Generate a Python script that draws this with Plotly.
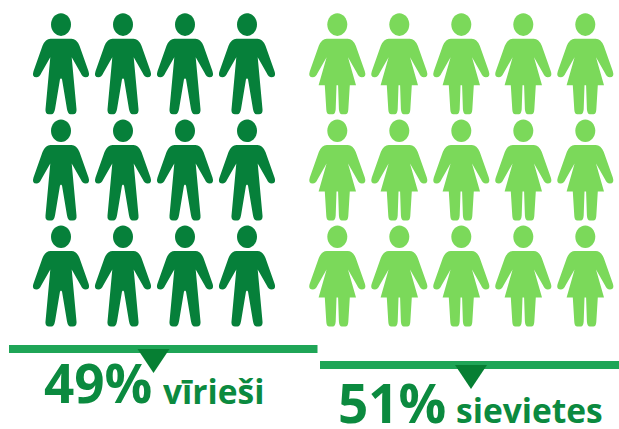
import plotly.graph_objects as go

W, H = 619, 429
men_x = [61, 123, 185, 247]
women_x = [337.3, 399.3, 461.3, 523.3, 585.3]
row_y = [13.3, 119.5, 225.5]
percents = ["49%", "51%"]
labels = ["vīrieši", "sievietes"]
MEN, WOMEN = "#06803a", "#7bd95a"
BAR, TRI, TXT = "#1fa557", "#067f33", "#0b8a3f"


def head(cx, top):
    rx, ry, cy = 10, 11.3, top + 11.3
    k = 0.5523
    return (f"M{cx-rx},{cy} C{cx-rx},{cy-k*ry} {cx-k*rx},{cy-ry} {cx},{cy-ry} "
            f"C{cx+k*rx},{cy-ry} {cx+rx},{cy-k*ry} {cx+rx},{cy} "
            f"C{cx+rx},{cy+k*ry} {cx+k*rx},{cy+ry} {cx},{cy+ry} "
            f"C{cx-k*rx},{cy+ry} {cx-rx},{cy+k*ry} {cx-rx},{cy} Z")


def side(s, cx, t, female):
    """Half outline from the top centre down to the crotch; s = -1 left, +1 right."""
    X = lambda d: cx + s * d
    p = [f"L{X(10.5)},{t+25.5}",
         f"Q{X(15.5)},{t+25.5} {X(18.5)},{t+32.5}",
         f"L{X(27.5)},{t+58}",
         f"Q{X(29.5)},{t+64} {X(24.5)},{t+64}",
         f"Q{X(21.5)},{t+64} {X(19.8)},{t+60}",
         f"L{X(10.7)},{t+44}"]
    if female:
        p += [f"L{X(18.7)},{t+72}",
              f"L{X(12.5)},{t+72}",
              f"L{X(11)},{t+96.5}",
              f"Q{X(10.7)},{t+101} {X(8)},{t+101}",
              f"L{X(4.5)},{t+101}",
              f"Q{X(2)},{t+101} {X(1.6)},{t+96}",
              f"L{X(0.8)},{t+72}"]
    else:
        p += [f"L{X(15.5)},{t+96}",
              f"Q{X(16)},{t+101} {X(12)},{t+101}",
              f"L{X(9.5)},{t+101}",
              f"Q{X(7)},{t+101} {X(6)},{t+96}",
              f"L{X(1)},{t+66}"]
    return p


def body(cx, t, female):
    crotch = t + (72 if female else 65)
    parts = []
    for s in (-1, 1):
        parts.append(" ".join([f"M{cx},{t+25.5}"] + side(s, cx, t, female) + [f"L{cx},{crotch}"]) + " Z")
    return " ".join(parts)


shapes = []
for xs, color, female in ((men_x, MEN, False), (women_x, WOMEN, True)):
    for t in row_y:
        for cx in xs:
            for path in (head(cx, t), body(cx, t, female)):
                shapes.append(dict(type="path", path=path, fillcolor=color,
                                   line=dict(width=0), layer="above"))

for x0, x1, y0, tip_x in ((9, 317.5, 345, 153.5), (320, 619, 361, 471)):
    shapes.append(dict(type="rect", x0=x0, x1=x1, y0=y0, y1=y0 + 8,
                       fillcolor=BAR, line=dict(width=0)))
    shapes.append(dict(type="path",
                       path=f"M{tip_x-16},{y0+4} L{tip_x+16},{y0+4} L{tip_x},{y0+28} Z",
                       fillcolor=TRI, line=dict(width=0)))

FONT = "Open Sans"
ann = []
for pct, lab, xp, yp, xl, yl in ((percents[0], labels[0], 42, 382, 161, 391),
                                 (percents[1], labels[1], 336, 401.5, 454, 410)):
    ann.append(dict(x=xp, y=yp, text=f"<b>{pct}</b>", xanchor="left", yanchor="middle",
                    height=50, showarrow=False, font=dict(family=FONT, size=53, color=TXT)))
    ann.append(dict(x=xl, y=yl, text=f"<b>{lab}</b>", xanchor="left", yanchor="middle",
                    height=36, showarrow=False, font=dict(family=FONT, size=33.5, color=TXT)))

fig = go.Figure()
fig.update_layout(
    width=W, height=H, autosize=False,
    margin=dict(l=0, r=0, t=0, b=0),
    paper_bgcolor="white", plot_bgcolor="white",
    xaxis=dict(range=[0, W], visible=False, fixedrange=True),
    yaxis=dict(range=[H, 0], visible=False, fixedrange=True),
    shapes=shapes, annotations=ann, showlegend=False,
)
fig.write_html("out.html", config={"displayModeBar": False},
               post_script="document.body.style.margin='0';")
